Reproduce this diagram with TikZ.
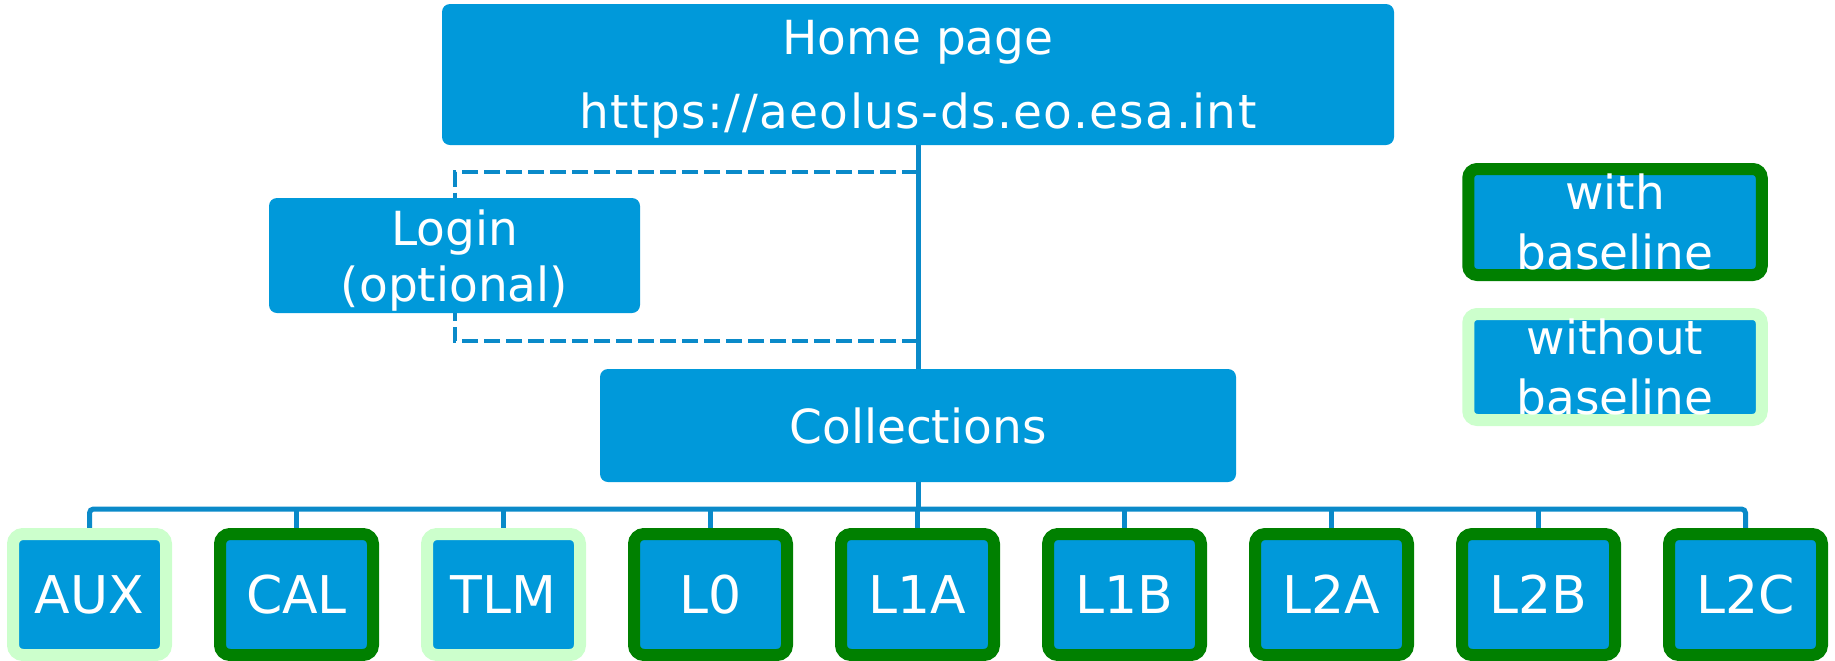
\documentclass[tikz,border=0pt]{standalone}
\usepackage{fontspec}
\setmainfont{DejaVu Sans}
\usetikzlibrary{positioning,backgrounds}
\definecolor{boxblue}{RGB}{0,153,218}
\definecolor{linkblue}{RGB}{10,138,201}
\definecolor{basegreen}{RGB}{0,128,0}
\definecolor{nobasegreen}{RGB}{204,255,204}

\begin{document}
\begin{tikzpicture}[x=0.5pt, y=-0.5pt,
    page/.style={rectangle, fill=boxblue, text=white, rounded corners=4pt, inner sep=0pt, outer sep=0pt, align=center},
    leaf/.style={rectangle, fill=boxblue, draw=#1, line width=6pt, text=white, rounded corners=5pt, inner sep=0pt, outer sep=0pt, minimum width=76.5pt, minimum height=60.5pt, font=\fontsize{26}{30}\selectfont},
    legend/.style={rectangle, fill=boxblue, draw=#1, line width=6pt, text=white, rounded corners=4.5pt, inner sep=0pt, outer sep=0pt, minimum width=146.75pt, minimum height=53pt, align=center, text depth=-3.5pt, font=\fontsize{23.5}{30}\selectfont},
    link/.style={draw=linkblue, line width=2.5pt},
    optlink/.style={draw=linkblue, line width=2pt, dash pattern=on 8pt off 3pt}
]
    \useasboundingbox (0,0) rectangle (1835,660);

    \node[page, minimum width=476pt, minimum height=70.5pt, text depth=0pt, font=\fontsize{23.5}{37}\selectfont] (home) at (918,74.5) {Home page\\\addfontfeature{LetterSpace=3}https://aeolus-ds.eo.esa.int};
    \node[page, minimum width=185.5pt, minimum height=57.5pt, text depth=0pt, font=\fontsize{23.5}{28}\selectfont] (login) at (454.5,255.5) {Login\\(optional)};
    \node[page, minimum width=318pt, minimum height=56.5pt, font=\fontsize{23.5}{28}\selectfont] (collections) at (918,425.5) {Collections};

    % legend
    \node[legend=basegreen] (withbl) at (1615,222) {with\\baseline};
    \node[legend=nobasegreen, below=19.5pt of withbl] (withoutbl) {without\\baseline};

    % collections
    \node[leaf=nobasegreen] (aux) at (89.5,594.5) {AUX};
    \node[leaf=basegreen, right=27pt of aux] (cal) {CAL};
    \node[leaf=nobasegreen, right=27pt of cal] (tlm) {TLM};
    \node[leaf=basegreen, right=27pt of tlm] (l0) {L0};
    \node[leaf=basegreen, right=27pt of l0] (l1a) {L1A};
    \node[leaf=basegreen, right=27pt of l1a] (l1b) {L1B};
    \node[leaf=basegreen, right=27pt of l1b] (l2a) {L2A};
    \node[leaf=basegreen, right=27pt of l2a] (l2b) {L2B};
    \node[leaf=basegreen, right=27pt of l2b] (l2c) {L2C};

    \coordinate (logintop) at (918,172);
    \coordinate (loginbot) at (918,341);
    \coordinate (bus) at (918,509);

    \begin{scope}[on background layer]
        \draw[link] (home.south) -- (collections.north);
        \draw[optlink] (logintop) -| (login.north);
        \draw[optlink] (loginbot) -| (login.south);
        \draw[link] (collections.south) -- (bus);
        \draw[link, rounded corners=2pt] (aux.north) |- (bus) -| (l2c.north);
        \draw[link] (cal.north) -- (cal.north |- bus);
        \draw[link] (tlm.north) -- (tlm.north |- bus);
        \draw[link] (l0.north) -- (l0.north |- bus);
        \draw[link] (l1a.north) -- (l1a.north |- bus);
        \draw[link] (l1b.north) -- (l1b.north |- bus);
        \draw[link] (l2a.north) -- (l2a.north |- bus);
        \draw[link] (l2b.north) -- (l2b.north |- bus);
    \end{scope}
\end{tikzpicture}
\end{document}
